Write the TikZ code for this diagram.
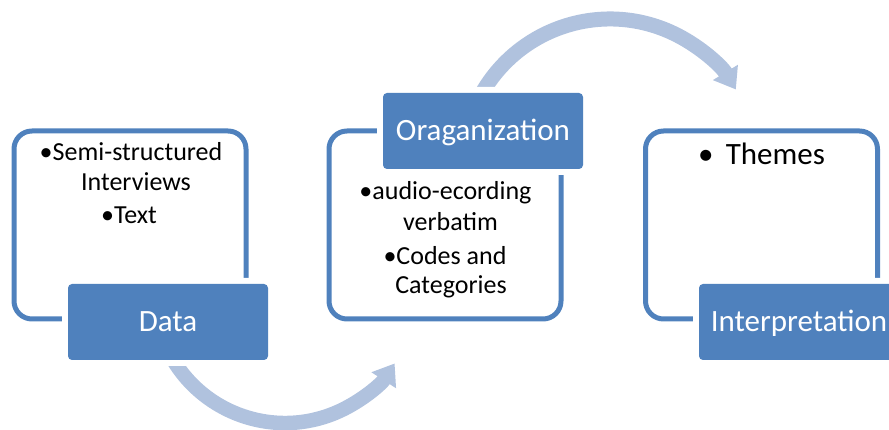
\documentclass[tikz,border=0pt]{standalone}
\usepackage{fontspec}
\setmainfont{Carlito}
\usetikzlibrary{arrows.meta}
\definecolor{boxblue}{RGB}{79,129,189}
\definecolor{arrowblue}{RGB}{176,194,222}
\begin{document}
\begin{tikzpicture}[x=1pt,y=1pt,
  outerframe/.style={draw=boxblue, line width=5pt, rounded corners=18pt, minimum width=232pt, minimum height=188pt, inner sep=0pt},
  labelbox/.style={fill=boxblue, rounded corners=4pt, minimum width=200pt, minimum height=76pt, inner sep=0pt, text=white, font=\fontsize{31}{37}\selectfont, text height=19pt, text depth=0pt, preaction={draw=white, line width=12pt}},
  itemtext/.style={anchor=base, inner sep=0pt, font=\fontsize{26}{30}\selectfont},
  flowarrow/.style={draw=arrowblue, line width=14.5pt, -{Triangle[width=28pt,length=20pt]}}]
\useasboundingbox (0,0) rectangle (889,430);
\clip (0,0) rectangle (889,430);
% frames
\node[outerframe] (f1) at (130,205) {};
\node[outerframe] (f2) at (445,205) {};
\node[outerframe] (f3) at (761.5,205) {};
% arrows
\coordinate (bc) at (285,137.7);
\draw[flowarrow] ([shift={(205:130.7)}]bc) arc[start angle=205, end angle=327, radius=130.7];
\coordinate (tc) at (610,263.4);
\draw[flowarrow, line width=15pt] ([shift={(153:147.6)}]tc) arc[start angle=153, end angle=31.5, radius=147.6];
% label boxes
\node[labelbox] (data) at (168,108) {Data};
\node[labelbox] (org) at (483,299) {Oraganization};
\node[labelbox] (interp) at (799,108) {Interpretation};
% items
\node[itemtext] (t1a) at (131,269.3) {•Semi-structured};
\node[itemtext] (t1b) at (136,239.3) {Interviews};
\node[itemtext] (t1c) at (129,206) {•Text};
\node[itemtext] (t2a) at (445.5,230) {•audio-ecording};
\node[itemtext] (t2b) at (450.5,199.3) {verbatim};
\node[itemtext] (t2c) at (445,165) {•Codes and};
\node[itemtext] (t2d) at (451,136.7) {Categories};
\node[itemtext, font=\fontsize{31}{37}\selectfont] (t3a) at (761.5,265) {•\hspace{0.4em}Themes};
\end{tikzpicture}
\end{document}
